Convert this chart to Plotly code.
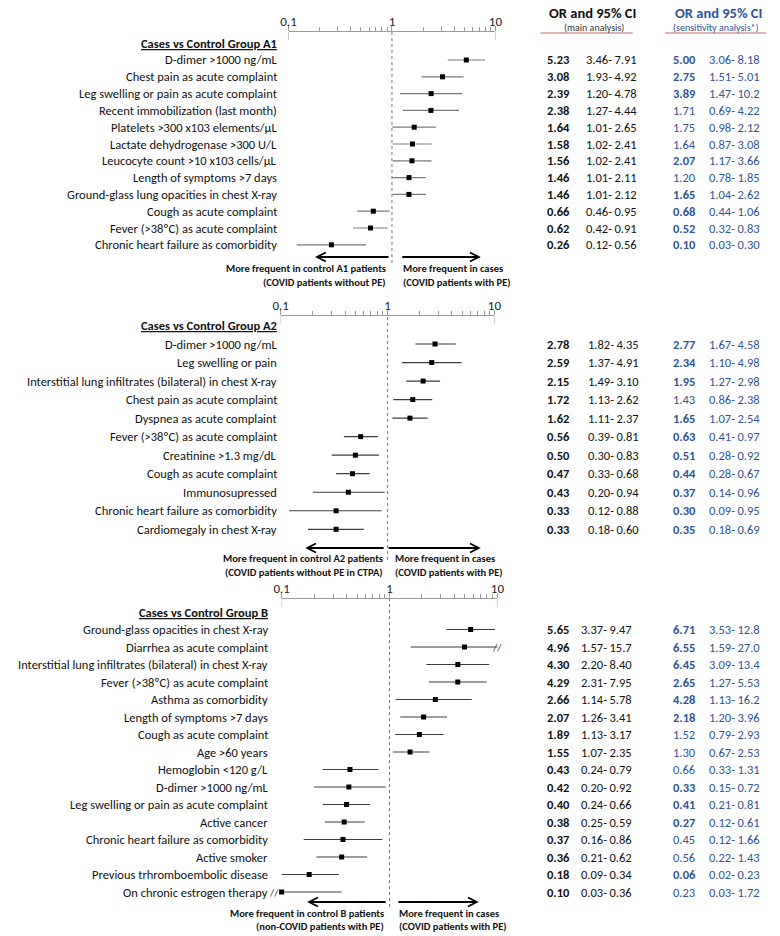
import math
import plotly.graph_objects as go

W, H = 780, 936
FONT = "Carlito, Lato, sans-serif"
BLACK = "#111111"
BLUE = "#2F5597"
AXIS = "#9a9a9a"
ROSE = "#d49a98"

# ---------------- data ----------------
labels_a1 = ["D-dimer >1000 ng/mL", "Chest pain as acute complaint",
             "Leg swelling or pain as acute complaint", "Recent immobilization (last month)",
             "Platelets >300 x103 elements/µL", "Lactate dehydrogenase >300 U/L",
             "Leucocyte count >10 x103 cells/µL", "Length of symptoms >7 days",
             "Ground-glass lung opacities in chest X-ray", "Cough as acute complaint",
             "Fever (>38ºC) as acute complaint", "Chronic heart failure as comorbidity"]
or_a1 = [5.23, 3.08, 2.39, 2.38, 1.64, 1.58, 1.56, 1.46, 1.46, 0.66, 0.62, 0.26]
lo_a1 = [3.46, 1.93, 1.20, 1.27, 1.01, 1.02, 1.02, 1.01, 1.01, 0.46, 0.42, 0.12]
hi_a1 = [7.91, 4.92, 4.78, 4.44, 2.65, 2.41, 2.41, 2.11, 2.12, 0.95, 0.91, 0.56]
sor_a1 = [5.00, 2.75, 3.89, 1.71, 1.75, 1.64, 2.07, 1.20, 1.65, 0.68, 0.52, 0.10]
slo_a1 = [3.06, 1.51, 1.47, 0.69, 0.98, 0.87, 1.17, 0.78, 1.04, 0.44, 0.32, 0.03]
shi_a1 = [8.18, 5.01, 10.2, 4.22, 2.12, 3.08, 3.66, 1.85, 2.62, 1.06, 0.83, 0.30]
sbold_a1 = [1, 1, 1, 0, 0, 0, 1, 0, 1, 1, 1, 1]

labels_a2 = ["D-dimer >1000 ng/mL", "Leg swelling or pain",
             "Interstitial lung infiltrates (bilateral) in chest X-ray",
             "Chest pain as acute complaint", "Dyspnea as acute complaint",
             "Fever (>38ºC) as acute complaint", "Creatinine >1.3 mg/dL",
             "Cough as acute complaint", "Immunosupressed",
             "Chronic heart failure as comorbidity", "Cardiomegaly in chest X-ray"]
or_a2 = [2.78, 2.59, 2.15, 1.72, 1.62, 0.56, 0.50, 0.47, 0.43, 0.33, 0.33]
lo_a2 = [1.82, 1.37, 1.49, 1.13, 1.11, 0.39, 0.30, 0.33, 0.20, 0.12, 0.18]
hi_a2 = [4.35, 4.91, 3.10, 2.62, 2.37, 0.81, 0.83, 0.68, 0.94, 0.88, 0.60]
sor_a2 = [2.77, 2.34, 1.95, 1.43, 1.65, 0.63, 0.51, 0.44, 0.37, 0.30, 0.35]
slo_a2 = [1.67, 1.10, 1.27, 0.86, 1.07, 0.41, 0.28, 0.28, 0.14, 0.09, 0.18]
shi_a2 = [4.58, 4.98, 2.98, 2.38, 2.54, 0.97, 0.92, 0.67, 0.96, 0.95, 0.69]
sbold_a2 = [1, 1, 1, 0, 1, 1, 1, 1, 1, 1, 1]

labels_b = ["Ground-glass opacities in chest X-ray", "Diarrhea as acute complaint",
            "Interstitial lung infiltrates (bilateral) in chest X-ray",
            "Fever (>38ºC) as acute complaint", "Asthma as comorbidity",
            "Length of symptoms >7 days", "Cough as acute complaint", "Age >60 years",
            "Hemoglobin <120 g/L", "D-dimer >1000 ng/mL",
            "Leg swelling or pain as acute complaint", "Active cancer",
            "Chronic heart failure as comorbidity", "Active smoker",
            "Previous trhromboembolic disease", "On chronic estrogen therapy"]
or_b = [5.65, 4.96, 4.30, 4.29, 2.66, 2.07, 1.89, 1.55, 0.43, 0.42, 0.40, 0.38, 0.37, 0.36, 0.18, 0.10]
lo_b = [3.37, 1.57, 2.20, 2.31, 1.14, 1.26, 1.13, 1.07, 0.24, 0.20, 0.24, 0.25, 0.16, 0.21, 0.09, 0.03]
hi_b = [9.47, 15.7, 8.40, 7.95, 5.78, 3.41, 3.17, 2.35, 0.79, 0.92, 0.66, 0.59, 0.86, 0.62, 0.34, 0.36]
sor_b = [6.71, 6.55, 6.45, 2.65, 4.28, 2.18, 1.52, 1.30, 0.66, 0.33, 0.41, 0.27, 0.45, 0.56, 0.06, 0.23]
slo_b = [3.53, 1.59, 3.09, 1.27, 1.13, 1.20, 0.79, 0.67, 0.33, 0.15, 0.21, 0.12, 0.12, 0.22, 0.02, 0.03]
shi_b = [12.8, 27.0, 13.4, 5.53, 16.2, 3.96, 2.93, 2.53, 1.31, 0.72, 0.81, 0.61, 1.66, 1.43, 0.23, 1.72]
sbold_b = [1, 1, 1, 1, 1, 1, 0, 0, 0, 1, 1, 1, 0, 0, 1, 0]

titles = ["Cases vs Control Group A1", "Cases vs Control Group A2", "Cases vs Control Group B"]
left_notes = [["More frequent in control A1 patients", "(COVID patients without PE)"],
              ["More frequent in control A2 patients", "(COVID patients without PE in CTPA)"],
              ["More frequent in control B patients", "(non-COVID patients with PE)"]]
right_notes = [["More frequent in cases", "(COVID patients with PE)"]] * 3

tick_vals = [0.1, 1, 10]
tick_text = ["0.1", "1", "10"]
minor_vals = [0.2, 0.3, 0.4, 0.5, 0.6, 0.7, 0.8, 0.9, 2, 3, 4, 5, 6, 7, 8, 9]
x_min, x_max = 0.1, 10

# ---------------- geometry (pixels) ----------------
geom = [
    dict(xl=286, xr=497, top=32, bottom=263, p0=60, step=16.8, label_r=276, ci_x=587,
         line_col="#7a7a7a", arrow_y=257, la=(315, 388), ra=(402, 480), lt_r=387, rt_l=401,
         ty=(268, 282)),
    dict(xl=278, xr=496, top=316, bottom=560, p0=344, step=18.53, label_r=276, ci_x=589,
         line_col="#3c3c3c", arrow_y=548, la=(305, 383), ra=(388, 480), lt_r=384, rt_l=393,
         ty=(558, 572)),
    dict(xl=279, xr=499, top=599, bottom=907, p0=629.5, step=17.5, label_r=267, ci_x=582,
         line_col="#3c3c3c", arrow_y=902, la=(307, 385), ra=(398, 478), lt_r=385, rt_l=397,
         ty=(913, 926)),
]
OR_X, SOR_X, SCI_X = 548, 676, 713

data = [
    (labels_a1, or_a1, lo_a1, hi_a1, sor_a1, slo_a1, shi_a1, sbold_a1),
    (labels_a2, or_a2, lo_a2, hi_a2, sor_a2, slo_a2, shi_a2, sbold_a2),
    (labels_b, or_b, lo_b, hi_b, sor_b, slo_b, shi_b, sbold_b),
]


def fmt(v):
    return f"{v:.1f}" if v >= 10 else f"{v:.2f}"


def px(x):
    return x / W


def py(y):
    return 1 - y / H


fig = go.Figure()
annotations = []
shapes = []
layout_axes = {}

for k, (labels, orv, lo, hi, sor, slo, shi, sbold) in enumerate(data):
    g = geom[k]
    s = "" if k == 0 else str(k + 1)
    xa, ya = "x" + s, "y" + s
    n = len(labels)
    rows = list(range(n))

    # CI lines
    lx, ly = [], []
    for i in rows:
        lx += [lo[i], hi[i], None]
        ly += [i, i, None]
    fig.add_trace(go.Scatter(x=lx, y=ly, mode="lines", xaxis=xa, yaxis=ya,
                             line=dict(color=g["line_col"], width=1.2), hoverinfo="skip"))
    fig.add_trace(go.Scatter(x=orv, y=rows, mode="markers", xaxis=xa, yaxis=ya,
                             marker=dict(symbol="square", size=5, color="black"),
                             cliponaxis=False, hoverinfo="skip"))

    y_top = (g["top"] - g["p0"]) / g["step"]
    y_bot = (g["bottom"] - g["p0"]) / g["step"]
    layout_axes["xaxis" + s] = dict(
        type="log", range=[math.log10(x_min), math.log10(x_max)],
        domain=[px(g["xl"]), px(g["xr"])], anchor=ya, side="top",
        showline=True, linecolor=AXIS, linewidth=1, showgrid=False, zeroline=False,
        ticks="outside", ticklen=5, tickcolor=AXIS, tickwidth=1,
        tickmode="array", tickvals=tick_vals, ticktext=tick_text,
        ticklabelstandoff=-5,
        tickfont=dict(family=FONT, size=13, color="#222"),
        minor=dict(tickmode="array", tickvals=minor_vals, ticks="outside",
                   ticklen=4, tickcolor=AXIS, tickwidth=1, showgrid=False),
        fixedrange=True)
    layout_axes["yaxis" + s] = dict(
        range=[y_bot, y_top], domain=[py(g["bottom"]), py(g["top"])],
        anchor=xa, visible=False, fixedrange=True)

    # end caps of the axis
    for xv in (x_min, x_max):
        shapes.append(dict(type="line", xref=xa, yref="paper", x0=xv, x1=xv,
                           y0=py(g["top"]), y1=py(g["top"] + 8),
                           line=dict(color=AXIS, width=1)))
    # dotted reference line at OR = 1
    shapes.append(dict(type="line", xref=xa, yref=ya + " domain", x0=1, x1=1, y0=0, y1=1,
                       line=dict(color="#777", width=1, dash="dot")))

    # title
    annotations.append(dict(x=px(g["label_r"]), y=-1, xref="paper", yref=ya,
                            text="<b><u>" + titles[k] + "</u></b>", xanchor="right",
                            yanchor="middle", showarrow=False,
                            font=dict(family=FONT, size=12.5, color=BLACK)))
    for i in rows:
        annotations.append(dict(x=px(g["label_r"]), y=i, xref="paper", yref=ya,
                                text=labels[i], xanchor="right", yanchor="middle",
                                showarrow=False, font=dict(family=FONT, size=12.5, color=BLACK)))
        annotations.append(dict(x=px(OR_X), y=i, xref="paper", yref=ya,
                                text="<b>" + fmt(orv[i]) + "</b>", xanchor="left",
                                yanchor="middle", showarrow=False,
                                font=dict(family=FONT, size=12.5, color=BLACK)))
        annotations.append(dict(x=px(g["ci_x"]), y=i, xref="paper", yref=ya,
                                text=fmt(lo[i]) + "-\u2009" + fmt(hi[i]), xanchor="left",
                                yanchor="middle", showarrow=False,
                                font=dict(family=FONT, size=12.5, color=BLACK)))
        st = "<b>" + fmt(sor[i]) + "</b>" if sbold[i] else fmt(sor[i])
        annotations.append(dict(x=px(SOR_X), y=i, xref="paper", yref=ya, text=st,
                                xanchor="left", yanchor="middle", showarrow=False,
                                font=dict(family=FONT, size=12.5, color=BLUE)))
        annotations.append(dict(x=px(SCI_X), y=i, xref="paper", yref=ya,
                                text=fmt(slo[i]) + "-\u2009" + fmt(shi[i]), xanchor="left",
                                yanchor="middle", showarrow=False,
                                font=dict(family=FONT, size=12.5, color=BLUE)))
        # break marks for intervals running well past the axis
        if math.log10(hi[i]) > math.log10(x_max) + 0.1:
            annotations.append(dict(x=math.log10(x_max), y=i, xref=xa, yref=ya, text="//",
                                    xanchor="center", yanchor="middle", showarrow=False,
                                    font=dict(family=FONT, size=11, color="#444")))
        if math.log10(lo[i]) < math.log10(x_min) - 0.1:
            annotations.append(dict(x=math.log10(x_min), y=i, xref=xa, yref=ya, text="//",
                                    xanchor="right", xshift=-1, yanchor="middle",
                                    showarrow=False,
                                    font=dict(family=FONT, size=11, color="#444")))

    # direction arrows
    ay = g["arrow_y"]
    for tail, tip, d in ((g["la"][1], g["la"][0], 1), (g["ra"][0], g["ra"][1], -1)):
        path = (f"M {px(tail)},{py(ay)} L {px(tip)},{py(ay)} "
                f"M {px(tip + d * 9)},{py(ay - 4.5)} L {px(tip)},{py(ay)} "
                f"L {px(tip + d * 9)},{py(ay + 4.5)}")
        shapes.append(dict(type="path", xref="paper", yref="paper", path=path,
                           line=dict(color="black", width=1.8)))
    for j in range(2):
        annotations.append(dict(x=px(g["lt_r"]), y=py(g["ty"][j]), xref="paper", yref="paper",
                                text="<b>" + left_notes[k][j] + "</b>", xanchor="right",
                                yanchor="middle", showarrow=False,
                                font=dict(family=FONT, size=10.5, color=BLACK)))
        annotations.append(dict(x=px(g["rt_l"]), y=py(g["ty"][j]), xref="paper", yref="paper",
                                text="<b>" + right_notes[k][j] + "</b>", xanchor="left",
                                yanchor="middle", showarrow=False,
                                font=dict(family=FONT, size=10.5, color=BLACK)))

# column headers
annotations += [
    dict(x=px(596), y=py(13), xref="paper", yref="paper", text="<b>OR and 95% CI</b>",
         showarrow=False, xanchor="center", yanchor="middle",
         font=dict(family=FONT, size=14.5, color=BLACK)),
    dict(x=px(597), y=py(27), xref="paper", yref="paper", text="(main analysis)",
         showarrow=False, xanchor="center", yanchor="middle",
         font=dict(family=FONT, size=10, color="#333")),
    dict(x=px(724), y=py(13), xref="paper", yref="paper", text="<b>OR and 95% CI</b>",
         showarrow=False, xanchor="center", yanchor="middle",
         font=dict(family=FONT, size=14.5, color=BLUE)),
    dict(x=px(722), y=py(27), xref="paper", yref="paper", text="(sensitivity analysis*)",
         showarrow=False, xanchor="center", yanchor="middle",
         font=dict(family=FONT, size=10, color=BLUE)),
]
for x0, x1 in ((543, 637), (670, 773)):
    shapes.append(dict(type="line", xref="paper", yref="paper", x0=px(x0), x1=px(x1),
                       y0=py(33), y1=py(33), line=dict(color=ROSE, width=1.3)))

fig.update_layout(width=W, height=H, margin=dict(l=0, r=0, t=0, b=0),
                  paper_bgcolor="white", plot_bgcolor="white", showlegend=False,
                  annotations=annotations, shapes=shapes, **layout_axes)
fig.write_html("out.html", config={"displayModeBar": False},
               post_script="document.body.style.margin='0px';")
